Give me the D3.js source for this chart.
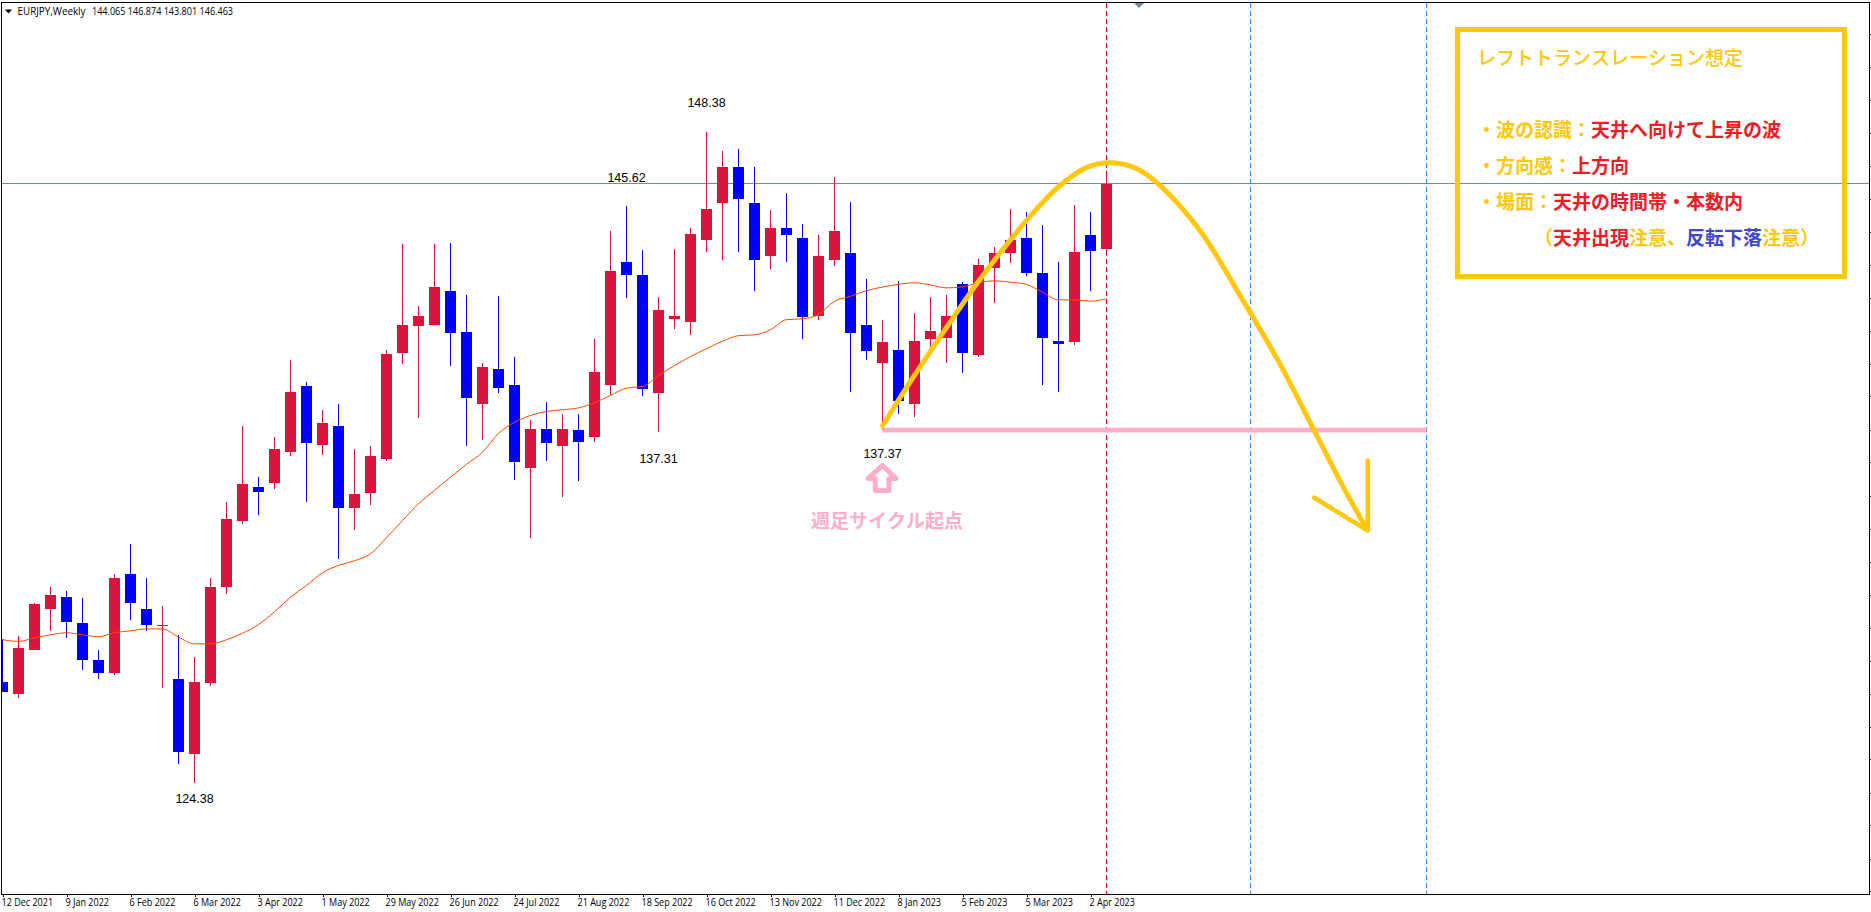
<!DOCTYPE html>
<html lang="ja">
<head>
<meta charset="utf-8">
<title>EURJPY Weekly</title>
<script src="https://cdn.jsdelivr.net/npm/d3@7"></script>
<style>
html,body{margin:0;padding:0;background:#fff;overflow:hidden}
svg{display:block}
svg text{text-spacing-trim:space-all;font-kerning:none}
</style>
</head>
<body>
<svg id="chart" width="1871" height="912"></svg>
<script>
const symbolLabel = "EURJPY,Weekly";
const ohlcLabel = "144.065 146.874 143.801 146.463";

const opens = [128.12,127.65,129.30,130.81,131.22,130.26,128.93,128.42,132.10,130.78,130.15,128.20,125.47,128.05,131.59,134.02,135.27,135.45,136.56,138.99,136.85,137.52,134.53,135.08,136.30,140.24,141.20,141.27,142.52,140.98,138.33,139.65,139.03,136.00,137.41,136.81,137.37,137.11,139.03,143.59,143.08,138.73,141.49,141.35,144.37,145.73,147.06,145.73,143.81,144.81,144.44,141.57,143.63,143.89,141.27,139.87,140.35,138.33,140.72,140.79,142.75,140.13,143.37,143.89,144.44,143.15,140.68,140.61,144.55,144.065];
const highs = [129.67,129.78,131.00,131.62,131.47,131.18,129.27,132.10,133.17,131.92,130.92,129.82,129.04,131.92,134.75,137.52,135.67,137.11,139.98,139.17,138.14,138.33,136.70,136.81,140.35,144.22,141.94,144.22,144.26,142.34,139.87,142.31,140.06,137.74,138.40,137.96,137.96,140.72,144.70,145.62,144.03,142.27,144.07,144.81,148.38,147.68,147.72,147.09,145.50,146.10,144.99,144.55,146.69,145.80,142.93,141.42,142.86,141.68,142.27,142.34,142.82,143.67,144.14,145.54,145.43,144.95,143.59,145.66,145.40,146.874];
const lows = [127.73,127.50,129.27,130.00,129.74,128.53,128.23,128.38,130.37,130.00,127.90,125.07,124.38,127.94,131.36,133.94,134.27,135.23,136.41,134.75,136.48,132.62,133.72,134.61,136.23,139.80,137.81,141.25,139.73,136.81,137.00,138.73,135.53,133.39,136.26,134.90,135.49,136.96,138.66,142.23,138.62,137.31,141.12,140.87,143.96,143.63,143.96,142.49,143.30,143.59,140.72,141.42,143.41,138.77,139.95,137.37,137.96,137.88,140.42,139.87,139.50,140.09,142.08,143.52,143.04,139.06,138.77,140.50,142.49,143.801];
const closes = [127.73,129.34,130.96,131.29,130.30,128.93,128.45,131.92,131.00,130.19,130.22,125.51,128.09,131.62,134.09,135.38,135.12,136.70,138.77,136.89,137.63,134.50,135.01,136.41,140.20,141.27,141.60,142.67,140.94,138.55,139.69,138.95,136.19,137.41,136.89,137.44,136.96,139.54,143.26,143.08,138.88,141.82,141.60,144.59,145.54,147.06,145.91,143.63,144.84,144.55,141.53,143.81,144.73,140.94,140.28,140.61,138.44,140.65,141.05,141.57,140.24,143.45,143.92,144.40,143.15,140.79,140.57,143.96,143.99,146.463];
const movingAverage = [129.66,129.60,129.73,129.84,129.92,129.84,129.77,129.92,129.99,130.06,130.06,129.76,129.51,129.51,129.66,129.90,130.22,130.69,131.23,131.66,132.13,132.40,132.57,132.83,133.42,134.05,134.67,135.16,135.65,136.12,136.57,137.26,137.67,137.92,138.07,138.13,138.20,138.39,138.66,138.93,138.99,139.39,139.76,140.09,140.38,140.66,140.86,140.89,141.08,141.45,141.48,141.64,142.13,142.31,142.52,142.65,142.75,142.81,142.73,142.62,142.66,142.81,142.88,142.83,142.75,142.46,142.18,142.18,142.13,142.22];

const dateLabels = ["12 Dec 2021","9 Jan 2022","6 Feb 2022","6 Mar 2022","3 Apr 2022","1 May 2022","29 May 2022","26 Jun 2022","24 Jul 2022","21 Aug 2022","18 Sep 2022","16 Oct 2022","13 Nov 2022","11 Dec 2022","8 Jan 2023","5 Feb 2023","5 Mar 2023","2 Apr 2023"];
const dateBars = [0,4,8,12,16,20,24,28,32,36,40,44,48,52,56,60,64,68];

const currentPrice = 146.463;
const priceTicks = [151.98,150.77,149.55,148.34,147.12,145.91,144.69,143.48,142.26,141.05,139.83,138.62,137.40,136.19,134.97,133.75,132.54,131.32,130.11,128.89,127.68,126.46,125.25,124.03,122.82,121.60,120.39];

const extremeBars = [44,39,41,55,12];
const extremePrices = [148.38,145.62,137.31,137.37,124.38];
const extremeOffsets = [-27.5,-27.5,28,24,17];

const redLineBars = [69];
const blueLineBars = [78,89];
const markerBar = 71;

const curveBars = [55.01,56.72,58.59,60.89,62.97,64.64,66.09,67.76,69.33,70.89,72.24,74.84,77.53,79.84,81.93,83.8,85.26];
const curvePrices = [137.55,139.15,140.80,142.77,144.37,145.53,146.39,147.06,147.23,147.01,146.45,144.73,142.16,139.82,137.43,135.28,133.75];
const headBars = [85.33,85.33,81.99];
const headPrices = [136.26,133.68,134.89];

const supportBars = [55,89];
const supportPrice = 137.38;

const upArrowBars = [55,55.85,55.4,55.4,54.55,54.55,54.1];
const upArrowPrices = [136.08,135.6,135.6,135.16,135.16,135.6,135.6];
const cycleLabel = "週足サイクル起点";

const boxTitle = "レフトトランスレーション想定";
const boxLines = [
  [["・波の認識：","y"],["天井へ向けて上昇の波","r"]],
  [["・方向感：","y"],["上方向","r"]],
  [["・場面：","y"],["天井の時間帯・本数内","r"]],
  [["\u3000\u3000\u3000（","y"],["天井出現","r"],["注意、","y"],["反転下落","b"],["注意）","y"]]
];

const CRIMSON="#DC143C", BLUE="#0000FF", YELLOW="#FFC70D", PINK="#FFADC9", GREY="#778899";
const textColor={y:YELLOW,r:"#EE1C25",b:"#3F48CC"};
const SANS="'Liberation Sans',Arial,sans-serif", UI="'Open Sans',Tahoma,sans-serif", JP="'Noto Sans CJK JP',sans-serif";

const svg=d3.select("#chart");
const x=d3.scaleLinear().domain([0,1]).range([2.5,18.5]);
const y=d3.scaleLinear().domain([148.38,124.38]).range([131.5,783.1]);
const top_=3, bottom_=894, left_=2, right_=1869;

svg.append("defs").append("clipPath").attr("id","plot").append("rect")
  .attr("x",left_).attr("y",top_).attr("width",right_-left_).attr("height",bottom_-top_);

const plot=svg.append("g").attr("clip-path","url(#plot)");

// price line and period separators (behind the candles)
plot.append("line").attr("x1",left_).attr("x2",right_).attr("y1",y(currentPrice)).attr("y2",y(currentPrice))
  .attr("stroke",GREY).attr("stroke-width",1).attr("shape-rendering","crispEdges");
const vLines=(bars,col)=>plot.selectAll(null).data(bars).join("line")
  .attr("x1",d=>x(d)).attr("x2",d=>x(d)).attr("y1",top_).attr("y2",bottom_)
  .attr("stroke",col).attr("stroke-width",1).attr("stroke-dasharray","5,3").attr("shape-rendering","crispEdges");
vLines(redLineBars,"#FF0000");
vLines(blueLineBars,"#1E90FF");

// candles
const idx=d3.range(closes.length);
const col=i=>closes[i]>=opens[i]?CRIMSON:BLUE;
plot.selectAll(".wick").data(idx).join("line").attr("class","wick")
  .attr("x1",i=>x(i)).attr("x2",i=>x(i)).attr("y1",i=>y(highs[i])).attr("y2",i=>y(lows[i]))
  .attr("stroke",col).attr("stroke-width",1).attr("shape-rendering","crispEdges");
plot.selectAll(".body").data(idx).join("rect").attr("class","body")
  .attr("x",i=>x(i)-5.5).attr("width",11)
  .attr("y",i=>y(Math.max(opens[i],closes[i])))
  .attr("height",i=>Math.max(1,Math.abs(y(opens[i])-y(closes[i]))))
  .attr("fill",col).attr("shape-rendering","crispEdges");

// moving average
plot.append("path").datum(movingAverage)
  .attr("d",d3.line().x((d,i)=>x(i)).y(d=>y(d)).curve(d3.curveMonotoneX))
  .attr("fill","none").attr("stroke","#FF4500").attr("stroke-width",1);

// support line
plot.append("path").datum(supportBars)
  .attr("d",d3.line().x(d=>x(d)).y(()=>y(supportPrice)))
  .attr("stroke",PINK).attr("stroke-width",4.6).attr("fill","none");

// forecast curve
plot.append("path").datum(d3.zip(curveBars,curvePrices))
  .attr("d",d3.line().x(d=>x(d[0])).y(d=>y(d[1])).curve(d3.curveCatmullRom.alpha(0.5)))
  .attr("fill","none").attr("stroke",YELLOW).attr("stroke-width",5).attr("stroke-linecap","round");
plot.append("path").datum(d3.zip(headBars,headPrices))
  .attr("d",d3.line().x(d=>x(d[0])).y(d=>y(d[1])))
  .attr("fill","none").attr("stroke",YELLOW).attr("stroke-width",4.6).attr("stroke-linecap","round").attr("stroke-linejoin","round");

// hollow up arrow
plot.append("path").datum(d3.zip(upArrowBars,upArrowPrices))
  .attr("d",d3.line().x(d=>x(d[0])).y(d=>y(d[1])).curve(d3.curveLinearClosed))
  .attr("fill","#fff").attr("stroke",PINK).attr("stroke-width",5).attr("stroke-linejoin","round");

// extreme labels
svg.selectAll(".ext").data(extremeBars).join("text").attr("class","ext")
  .attr("x",d=>x(d)).attr("y",(d,i)=>y(extremePrices[i])+extremeOffsets[i])
  .attr("text-anchor","middle").attr("dominant-baseline","middle")
  .attr("font-family",SANS).attr("font-size",12.5).attr("fill","#000")
  .text((d,i)=>extremePrices[i].toFixed(2));

svg.append("text").attr("x",x(55)+4.5).attr("y",523).attr("text-anchor","middle").attr("dominant-baseline","middle")
  .attr("font-family",JP).attr("font-weight",700).attr("font-size",19).attr("fill",PINK).text(cycleLabel);

// frame
svg.append("path").attr("d",`M${left_-0.5},${top_-0.5}H${right_+0.5}V${bottom_+0.5}H${left_-0.5}Z`)
  .attr("fill","none").attr("stroke","#000").attr("stroke-width",1).attr("shape-rendering","crispEdges");

// marker on the top edge
svg.append("path").datum(markerBar)
  .attr("d",d=>d3.line()([[x(d)-4.5,3],[x(d)+5.5,3],[x(d)+0.5,8]])+"Z").attr("fill",GREY);

// axes
const axisX=svg.append("g").attr("transform",`translate(0,${bottom_})`)
  .call(d3.axisBottom(x).tickValues(dateBars).tickFormat((d,i)=>dateLabels[i]).tickSize(3).tickPadding(2));
axisX.select(".domain").remove();
axisX.selectAll("line").attr("stroke","#000").attr("shape-rendering","crispEdges");
axisX.selectAll("text").attr("text-anchor","start").attr("dx",-1.5).attr("fill","#000")
  .attr("font-family",UI).attr("font-size",10.5).each(function(){
    this.setAttribute("textLength",(this.getComputedTextLength()*0.86).toFixed(1));
    this.setAttribute("lengthAdjust","spacingAndGlyphs");
  });
const axisY=svg.append("g").attr("transform",`translate(${right_},0)`)
  .call(d3.axisRight(y).tickValues(priceTicks).tickFormat("").tickSize(2));
axisY.select(".domain").remove();
axisY.selectAll("line").attr("stroke","#000").attr("shape-rendering","crispEdges");

// header
svg.append("path").datum([[5,9.5],[12,9.5],[8.5,13.5]]).attr("d",d=>d3.line()(d)+"Z").attr("fill","#000");
const hdr=(t,px,len)=>svg.append("text").attr("x",px).attr("y",14.5).attr("font-family",UI).attr("font-size",10.5)
  .attr("fill","#000").attr("textLength",len).attr("lengthAdjust","spacingAndGlyphs").text(t);
hdr(symbolLabel,17.5,68);
hdr(ohlcLabel,92,141);

// info box
svg.append("rect").attr("x",1457.5).attr("y",29.5).attr("width",387).attr("height",247)
  .attr("fill","none").attr("stroke",YELLOW).attr("stroke-width",5);
svg.append("text").attr("x",1477).attr("y",59.5).attr("dominant-baseline","middle")
  .attr("font-family",JP).attr("font-weight",500).attr("font-size",19).attr("fill",YELLOW).text(boxTitle);
const rowY=d3.scalePoint().domain(d3.range(boxLines.length)).range([132,240]);
boxLines.forEach((segments,r)=>{
  const t=svg.append("text").attr("x",1477).attr("y",rowY(r)).attr("dominant-baseline","middle")
    .attr("font-family",JP).attr("font-weight",700).attr("font-size",19).attr("xml:space","preserve");
  segments.forEach(s=>t.append("tspan").attr("fill",textColor[s[1]]).text(s[0]));
});
</script>
</body>
</html>
